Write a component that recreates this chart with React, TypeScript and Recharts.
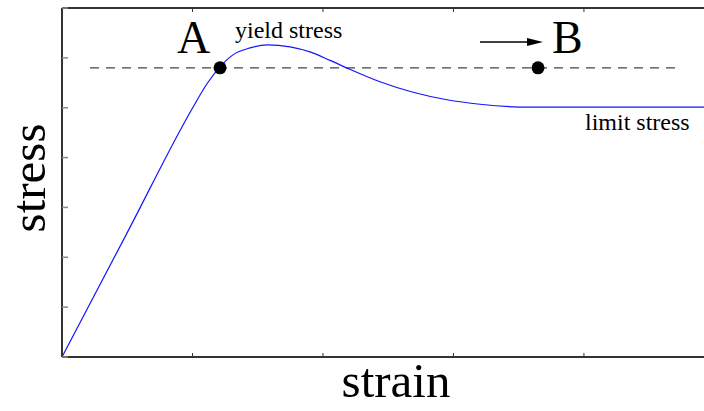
import React from "react"
import { LineChart, Line, XAxis, YAxis, ReferenceLine, ReferenceDot } from "recharts"

// curve (strain, stress)
const strainPts = [0, 0.5, 1.004, 1.111, 1.211, 1.31, 1.441, 1.571, 1.747, 1.9, 2.054, 2.207, 2.437, 2.69, 2.95, 3.203, 3.586, 4.92]
const stressPts = [0, 2.495, 5.01, 5.48, 5.82, 6.06, 6.2, 6.26, 6.22, 6.12, 5.95, 5.77, 5.52, 5.31, 5.16, 5.07, 5.01, 5.01]
const xTicks = [0, 1, 2, 3, 4]
const yTicks = [0, 1, 2, 3, 4, 5, 6, 7]
const yieldLevel = 5.8
const dashStart = 0.215
const dashEnd = 4.7
const pointA = { x: 1.211, y: 5.8 }
const pointB = { x: 3.648, y: 5.8 }

const rows = strainPts.map((s, i) => ({ strain: s, stress: stressPts[i] }))

const serif = '"Liberation Serif", "DejaVu Serif", serif'
const W = 704
const H = 411
const noLabel = () => <g />

export default function App() {
  return (
    <div style={{ position: "absolute", left: 0, top: 0, width: W, height: H, overflow: "hidden", background: "#fff" }}>
      <LineChart width={W} height={H} data={rows} margin={{ top: 8, right: 0, bottom: 54, left: 62 }}>
        <XAxis
          type="number"
          dataKey="strain"
          domain={[0, 4.92]}
          ticks={xTicks}
          allowDataOverflow
          mirror
          tick={noLabel}
          tickSize={4}
          axisLine={{ stroke: "#333", strokeWidth: 2 }}
          tickLine={{ stroke: "#333" }}
        />
        <XAxis
          xAxisId="top"
          orientation="top"
          type="number"
          dataKey="strain"
          domain={[0, 4.92]}
          ticks={xTicks}
          allowDataOverflow
          mirror
          tick={noLabel}
          tickSize={4}
          axisLine={{ stroke: "#333", strokeWidth: 2 }}
          tickLine={{ stroke: "#333" }}
        />
        <YAxis
          type="number"
          domain={[0, 7]}
          ticks={yTicks}
          mirror
          tick={noLabel}
          tickSize={6}
          axisLine={{ stroke: "#333", strokeWidth: 2 }}
          tickLine={{ stroke: "#888", strokeWidth: 1.5 }}
        />
        <ReferenceLine
          segment={[{ x: dashStart, y: yieldLevel }, { x: dashEnd, y: yieldLevel }]}
          stroke="#444"
          strokeWidth={1.4}
          strokeDasharray="9 7"
        />
        <Line
          type="monotone"
          dataKey="stress"
          stroke="#1414ff"
          strokeWidth={1.2}
          dot={false}
          isAnimationActive={false}
        />
        <ReferenceDot x={pointA.x} y={pointA.y} r={6.5} fill="#000" stroke="none" />
        <ReferenceDot x={pointB.x} y={pointB.y} r={6.5} fill="#000" stroke="none" />
      </LineChart>
      <svg width={W} height={H} style={{ position: "absolute", left: 0, top: 0, pointerEvents: "none" }}>
        <text x={177} y={53} fontSize={46} fontFamily={serif} fill="#000">A</text>
        <text x={235} y={38} fontSize={24} fontFamily={serif} fill="#000">yield stress</text>
        <text x={552} y={53} fontSize={46} fontFamily={serif} fill="#000">B</text>
        <line x1={480} y1={42} x2={530} y2={42} stroke="#000" strokeWidth={1.3} />
        <polygon points="527,38 543,42 527,46" fill="#000" />
        <text x={585} y={130} fontSize={24} fontFamily={serif} fill="#000">limit stress</text>
        <text x={396} y={397} fontSize={49} fontFamily={serif} fill="#000" textAnchor="middle">strain</text>
        <text x={45} y={178} fontSize={49} fontFamily={serif} fill="#000" textAnchor="middle" transform="rotate(-90 45 178)">stress</text>
      </svg>
    </div>
  )
}
